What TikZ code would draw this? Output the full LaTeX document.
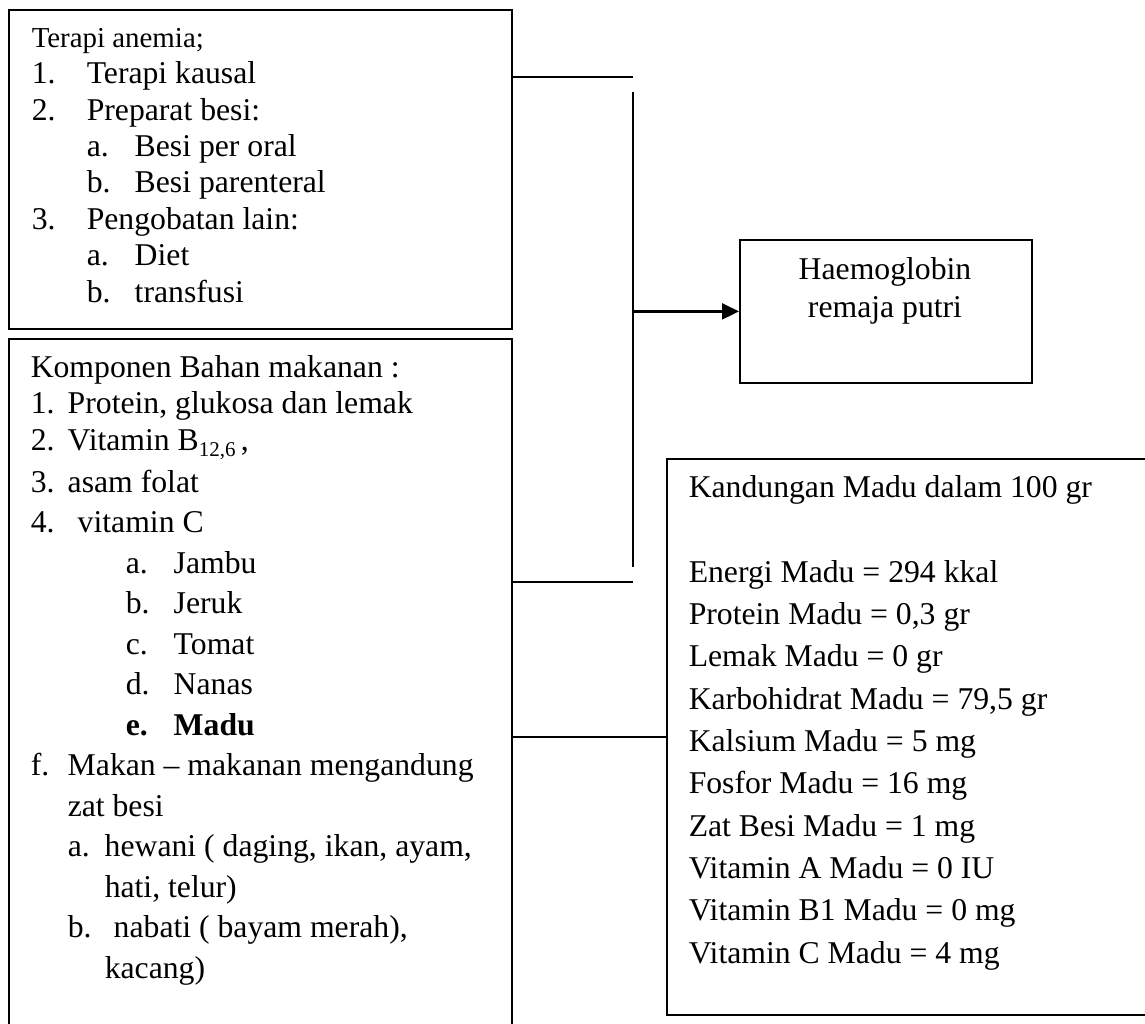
\documentclass[tikz,border=0pt]{standalone}
\usepackage{fontspec}
\setmainfont{Liberation Serif}
\usetikzlibrary{arrows.meta}

\newcommand{\itm}[4]{\hspace*{#1pt}\makebox[#2pt][l]{#3}#4}

\begin{document}
\begin{tikzpicture}[x=1pt, y=-1pt, >={Triangle[length=17pt,width=16pt]}, line width=1.5pt]
		\tikzstyle{box}=[draw, rectangle, anchor=north west, inner sep=0pt, line width=1.8pt]
		\tikzstyle{txt}=[anchor=base west, inner sep=0pt, align=left, font=\fontsize{31.7}{36.4}\selectfont]
		
		\useasboundingbox (0,0) rectangle (1145,1024);
		
		\node[box, minimum width=503pt, minimum height=319pt] at (8,9)   (terapi)   {};
		\node[box, minimum width=503pt, minimum height=700pt] at (8,338) (komponen) {};
		\node[box, minimum width=292pt, minimum height=143pt] at (739,239) (hb)     {};
		\node[box, minimum width=490pt, minimum height=556pt] at (666,458) (madu)   {};
		
		% text nodes sit on the baseline of their last line
		\node[txt] at (31,302) (terapitxt) {{\fontsize{28.9}{36.4}\selectfont Terapi anemia;}\\
			\itm{0}{55}{1.}{Terapi kausal}\\
			\itm{0}{55}{2.}{Preparat besi:}\\
			\itm{55}{48}{a.}{Besi per oral}\\
			\itm{55}{48}{b.}{Besi parenteral}\\
			\itm{0}{55}{3.}{Pengobatan lain:}\\
			\itm{55}{48}{a.}{Diet}\\
			\itm{55}{48}{b.}{transfusi}};
		
		\node[txt, font=\fontsize{31.7}{40.5}\selectfont] at (30,978) (komponentxt) {Komponen Bahan makanan :\\[-4.5pt]
			\itm{0}{37}{1.}{Protein, glukosa dan lemak}\\[-3.5pt]
			\itm{0}{37}{2.}{Vitamin B\raisebox{-0.22em}{\fontsize{21}{21}\selectfont 12,6}\,,}\\[1.5pt]
			\itm{0}{37}{3.}{asam folat}\\
			\itm{0}{47}{4.}{vitamin C}\\
			\itm{95}{48}{a.}{Jambu}\\
			\itm{95}{48}{b.}{Jeruk}\\
			\itm{95}{48}{c.}{Tomat}\\
			\itm{95}{48}{d.}{Nanas}\\
			\itm{95}{48}{\textbf{e.}}{\textbf{Madu}}\\
			\itm{0}{37}{f.}{Makan -- makanan mengandung}\\
			\hspace*{37pt}zat besi\\
			\itm{37}{37}{a.}{hewani ( daging, ikan, ayam,}\\
			\hspace*{74pt}hati, telur)\\
			\itm{37}{46}{b.}{nabati ( bayam merah),}\\
			\hspace*{74pt}kacang)};
		
		\node[txt, anchor=base, align=center, font=\fontsize{31.7}{38}\selectfont] at (885,317) (hbtxt) {Haemoglobin\\remaja putri};
		
		\node[txt, font=\fontsize{31.7}{42.3}\selectfont] at (688,963) (madutxt) {Kandungan Madu dalam 100 gr\\[42.3pt]
			Energi Madu = 294 kkal\\
			Protein Madu = 0,3 gr\\
			Lemak Madu = 0 gr\\
			Karbohidrat Madu = 79,5 gr\\
			Kalsium Madu = 5 mg\\
			Fosfor Madu = 16 mg\\
			Zat Besi Madu = 1 mg\\
			Vitamin A Madu = 0 IU\\
			Vitamin B1 Madu = 0 mg\\
			Vitamin C Madu = 4 mg};
		
		\coordinate (jtop) at (633,77);
		\coordinate (vtop) at (633,92);
		\coordinate (vbot) at (633,567);
		\coordinate (jbot) at (633,582);
		
		\draw (terapi.east |- jtop) -- (jtop);
		\draw (vtop) -- (vbot);
		\draw (komponen.east |- jbot) -- (jbot);
		\draw (komponen.east |- madu.west) -- (madu.west);
		\draw[->, line width=2.2pt] (vtop |- hb.west) -- (hb.west);
	\end{tikzpicture}
\end{document}
